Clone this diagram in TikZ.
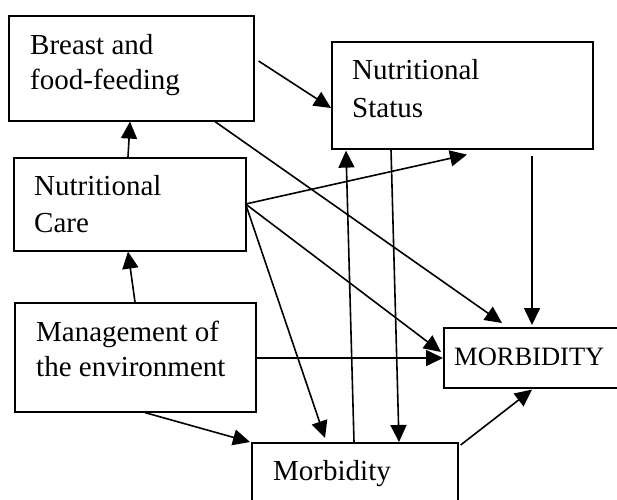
\documentclass[tikz,border=0pt]{standalone}
\usepackage{fontspec}
\setmainfont{Liberation Serif}
\usetikzlibrary{arrows.meta,calc}
\begin{document}
\begin{tikzpicture}[x=1pt,y=-1pt,
  box/.style={draw,line width=1.6pt,rectangle,inner sep=0pt,anchor=north west},
  txt/.style={anchor=base west,inner sep=0pt,font=\fontsize{29}{35}\selectfont},
  arr/.style={line width=1.6pt,-{Triangle[length=17pt,width=16pt]}}]
\useasboundingbox (0,0) rectangle (617,499);
\clip (0,0) rectangle (617,499);
% boxes
\node[box,minimum width=245pt,minimum height=105pt] (bf) at (8,15) {};
\node[box,minimum width=232pt,minimum height=93pt] (nc) at (13,157) {};
\node[box,minimum width=241pt,minimum height=109pt] (me) at (14,302) {};
\node[box,minimum width=206pt,minimum height=80pt] (mb) at (251,442) {};
\node[box,minimum width=261pt,minimum height=107pt] (ns) at (331,41) {};
\node[box,minimum width=185pt,minimum height=60pt] (MB) at (443,327) {};
% texts
\node[txt] (t1) at (30,54) {Breast and};
\node[txt] (t2) at (30,89) {food-feeding};
\node[txt] (t3) at (34,195) {Nutritional};
\node[txt] (t4) at (34,232) {Care};
\node[txt] (t5) at (352,79) {Nutritional};
\node[txt] (t6) at (352,117) {Status};
\node[txt] (t7) at (36,341) {Management of};
\node[txt] (t8) at (36,376) {the environment};
\node[txt,font=\fontsize{26.5}{32}\selectfont] (t9) at (454,365) {MORBIDITY};
\node[txt] (t10) at (273,480) {Morbidity};
% connectors
\draw[arr] ($(bf.north east)+(4,46)$) -- ($(ns.north west)+(0,67)$);
\draw[arr] ($(bf.south west)+(207,0)$) -- ($(MB.north west)+(59,-4)$);
\draw[arr] ($(nc.north west)+(115,0)$) -- ($(bf.south west)+(122,0)$);
\coordinate (ncp) at ($(nc.north east)+(-1,47)$);
\draw[arr] (ncp) -- ($(ns.south west)+(136,5)$);
\draw[arr] (ncp) -- ($(MB.north west)+(-2,25)$);
\draw[arr] (ncp) -- ($(mb.north west)+(74,-4)$);
\draw[arr] ($(me.north east)+(0,56)$) -- ($(MB.north west)+(0,31)$);
\draw[arr] ($(me.south west)+(131,0)$) -- ($(mb.north west)+(-1,0)$);
\draw[arr] ($(me.north west)+(121,0)$) -- ($(nc.south west)+(115,0)$);
\draw[arr] ($(mb.north west)+(103,0)$) -- ($(ns.south west)+(15,1)$);
\draw[arr] ($(ns.south west)+(60,0)$) -- ($(mb.north west)+(148,0)$);
\draw[arr] ($(ns.south west)+(201,6)$) -- ($(MB.north west)+(89,-2)$);
\draw[arr] ($(mb.north east)+(2,3)$) -- ($(MB.south west)+(89,1)$);
\end{tikzpicture}
\end{document}
